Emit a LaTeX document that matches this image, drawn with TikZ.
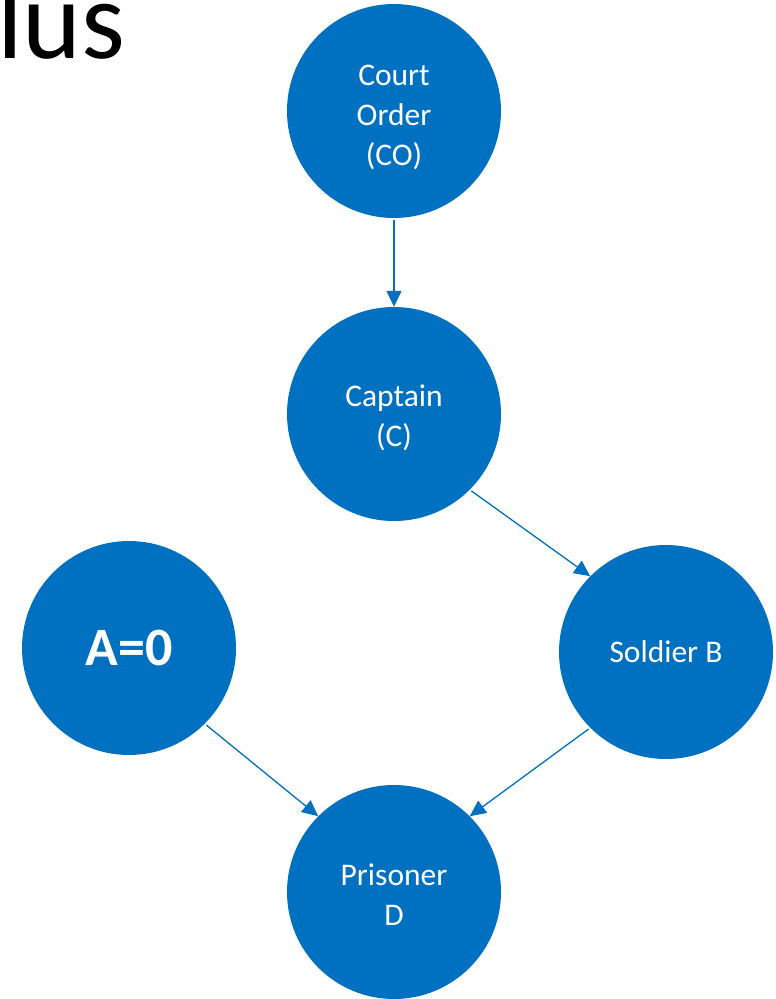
\documentclass[tikz,border=0pt]{standalone}
\usepackage{fontspec}
\setmainfont{Carlito}
\usetikzlibrary{arrows.meta}
\definecolor{nodeblue}{RGB}{0,112,192}
\tikzset{
  bubble/.style={circle,fill=nodeblue,draw=none,minimum size=214pt,inner sep=0pt},
  btext/.style={text=white,align=center,inner sep=0pt,font=\fontsize{31.5}{40}\selectfont},
  link/.style={draw=nodeblue,line width=1.3pt,-{Triangle[length=16pt,width=15pt]},shorten <=2pt}
}
\begin{document}
\begin{tikzpicture}[x=1pt,y=-1pt]
\useasboundingbox (0,0) rectangle (776,999);
\node[anchor=base west,inner sep=0pt,font=\fontsize{112}{112}\selectfont] (title) at (-3,58) {lus};
\node[bubble] (co) at (394,111) {};
\node[bubble] (cap) at (394,414) {};
\node[bubble] (a) at (129,648) {};
\node[bubble] (sol) at (666,652) {};
\node[bubble] (pri) at (394,892) {};
\node[btext,yshift=-6pt] (coT) at (co) {Court\\Order\\(CO)};
\node[btext,yshift=-4pt] (capT) at (cap) {Captain\\(C)};
\node[btext,font=\bfseries\fontsize{54}{60}\selectfont] (aT) at (a) {A=0};
\node[btext] (solT) at (sol) {Soldier B};
\node[btext,yshift=-3pt] (priT) at (pri) {Prisoner\\D};
\draw[link] (co.south) -- (cap.north);
\draw[link] (cap.-45) -- (sol.135);
\draw[link] (a.-45) -- (pri.135);
\draw[link] (sol.-135) -- (pri.45);
\end{tikzpicture}
\end{document}
